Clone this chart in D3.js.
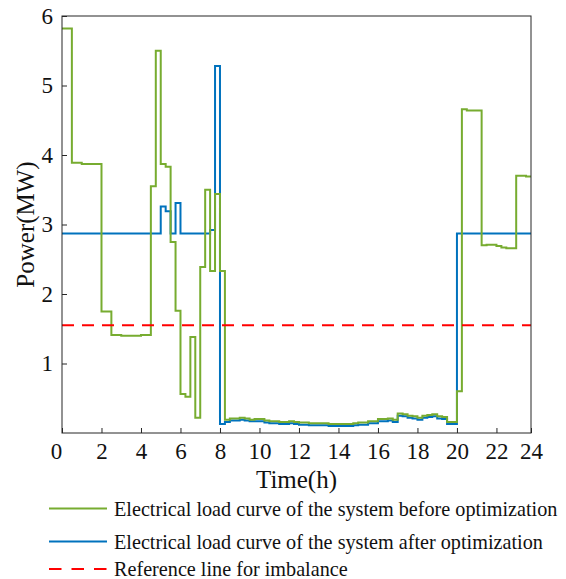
<!DOCTYPE html>
<html>
<head>
<meta charset="utf-8">
<script src="https://cdn.jsdelivr.net/npm/d3@7"></script>
<style>
    body { margin: 0; background: #fff; }
    svg { font-family: "Liberation Serif", "Times New Roman", serif; }
</style>
</head>
<body>
<div id="chart"></div>
<script>
// one value per 15 min slot, 96 slots (stairs, last slot not drawn)
const slot_hours = 0.25
const before = [
    5.82, 5.82, 3.89, 3.89, 3.87, 3.87, 3.87, 3.87,
    1.75, 1.75, 1.41, 1.41, 1.40, 1.40, 1.40, 1.40,
    1.41, 1.41, 3.55, 5.50, 3.87, 3.83, 2.75, 1.76,
    0.56, 0.52, 1.38, 0.22, 2.39, 3.50, 2.33, 3.44,
    2.33, 0.19, 0.21, 0.21, 0.22, 0.21, 0.19, 0.20,
    0.20, 0.18, 0.17, 0.17, 0.16, 0.16, 0.17, 0.16,
    0.15, 0.15, 0.14, 0.14, 0.14, 0.14, 0.13, 0.13,
    0.13, 0.13, 0.13, 0.14, 0.15, 0.15, 0.17, 0.17,
    0.20, 0.20, 0.21, 0.19, 0.28, 0.27, 0.25, 0.24,
    0.22, 0.25, 0.26, 0.27, 0.24, 0.23, 0.16, 0.16,
    0.60, 4.66, 4.64, 4.64, 4.64, 2.70, 2.71, 2.71,
    2.69, 2.67, 2.66, 2.66, 3.70, 3.70, 3.69, 3.69
]
const after = [
    2.87, 2.87, 2.87, 2.87, 2.87, 2.87, 2.87, 2.87,
    2.87, 2.87, 2.87, 2.87, 2.87, 2.87, 2.87, 2.87,
    2.87, 2.87, 2.87, 2.87, 3.26, 3.19, 2.87, 3.31,
    2.87, 2.87, 2.87, 2.87, 2.87, 2.87, 2.92, 5.28,
    0.13, 0.16, 0.18, 0.18, 0.19, 0.18, 0.17, 0.17,
    0.17, 0.15, 0.14, 0.14, 0.13, 0.13, 0.14, 0.13,
    0.12, 0.12, 0.11, 0.11, 0.11, 0.11, 0.10, 0.10,
    0.10, 0.10, 0.10, 0.11, 0.12, 0.12, 0.14, 0.14,
    0.17, 0.17, 0.18, 0.16, 0.25, 0.24, 0.22, 0.21,
    0.19, 0.22, 0.23, 0.24, 0.21, 0.20, 0.13, 0.13,
    2.87, 2.87, 2.87, 2.87, 2.87, 2.87, 2.87, 2.87,
    2.87, 2.87, 2.87, 2.87, 2.87, 2.87, 2.87, 2.87
]
const reference = 1.55

const x_ticks = [0, 2, 4, 6, 8, 10, 12, 14, 16, 18, 20, 22]
const y_ticks = [1, 2, 3, 4, 5, 6]
const legend_labels = [
    "Electrical load curve of the system before optimization",
    "Electrical load curve of the system after optimization",
    "Reference line for imbalance"
]

const W = 566, H = 579
const margin = {left: 62, right: 35, top: 16, bottom: 146}
const width = W - margin.left - margin.right
const height = H - margin.top - margin.bottom

const colors = {before: "#77AC30", after: "#0072BD", ref: "#FF0000", axis: "#262626"}

const last_t = (before.length - 1) * slot_hours

const x = d3.scaleLinear().domain([0, last_t]).range([0, width])
const y = d3.scaleLinear().domain([0, 6]).range([height, 0])

const svg = d3.select("#chart")
    .append("svg")
    .attr("width", W)
    .attr("height", H)

const g = svg.append("g")
    .attr("transform", `translate(${margin.left}, ${margin.top})`)

/* LINES */
const line = d3.line()
    .x((d, i) => x(i * slot_hours))
    .y(d => y(d))
    .curve(d3.curveStepAfter)

g.append("path")
    .datum(after)
    .attr("d", line)
    .attr("fill", "none")
    .attr("stroke", colors.after)
    .attr("stroke-width", 2)

g.append("path")
    .datum(before)
    .attr("d", line)
    .attr("fill", "none")
    .attr("stroke", colors.before)
    .attr("stroke-width", 2)

g.append("line")
    .attr("x1", 0)
    .attr("x2", width)
    .attr("y1", y(reference))
    .attr("y2", y(reference))
    .attr("stroke", colors.ref)
    .attr("stroke-width", 2)
    .attr("stroke-dasharray", "12,8")

/* AXES */
const x_axis = g.append("g")
    .attr("transform", `translate(0, ${height})`)
    .call(d3.axisBottom(x)
        .tickValues([...x_ticks, last_t])
        .tickSize(-5)
        .tickPadding(10)
        .tickFormat(d => d === last_t ? "24" : d))
x_axis.selectAll("text")
    .attr("dx", d => d === 0 ? -6 : 0)

const y_axis = g.append("g")
    .call(d3.axisLeft(y)
        .tickValues(y_ticks)
        .tickSize(-5)
        .tickPadding(9)
        .tickFormat(d3.format("d")))

for (const ax of [x_axis, y_axis]) {
    ax.select(".domain").remove()
    ax.selectAll("line").attr("stroke", colors.axis)
    ax.selectAll("text")
        .attr("fill", "#111")
        .style("font-size", "23px")
        .style("font-family", "'Liberation Serif', serif")
}

// box
g.append("rect")
    .attr("width", width)
    .attr("height", height)
    .attr("fill", "none")
    .attr("stroke", colors.axis)
    .attr("stroke-width", 1)

/* AXIS LABELS */
svg.append("text")
    .attr("x", margin.left + width / 2)
    .attr("y", 488)
    .attr("text-anchor", "middle")
    .style("font-size", "25px")
    .attr("fill", "#111")
    .text("Time(h)")

svg.append("text")
    .attr("transform", `translate(34, ${margin.top + height / 2}) rotate(-90)`)
    .attr("text-anchor", "middle")
    .style("font-size", "25px")
    .attr("fill", "#111")
    .text("Power(MW)")

/* LEGEND */
const legend_rows = [
    {y: 508.5, color: colors.before, dash: null},
    {y: 541.5, color: colors.after, dash: null},
    {y: 569, color: colors.ref, dash: "12.5,10"}
]
const legend = svg.append("g")
legend_rows.forEach((row, i) => {
    legend.append("line")
        .attr("x1", 49)
        .attr("x2", 107)
        .attr("y1", row.y)
        .attr("y2", row.y)
        .attr("stroke", row.color)
        .attr("stroke-width", 2)
        .attr("stroke-dasharray", row.dash)
    legend.append("text")
        .attr("x", 114)
        .attr("y", row.y)
        .attr("dy", "0.35em")
        .style("font-size", "20.2px")
        .attr("fill", "#111")
        .text(legend_labels[i])
})
</script>
</body>
</html>
